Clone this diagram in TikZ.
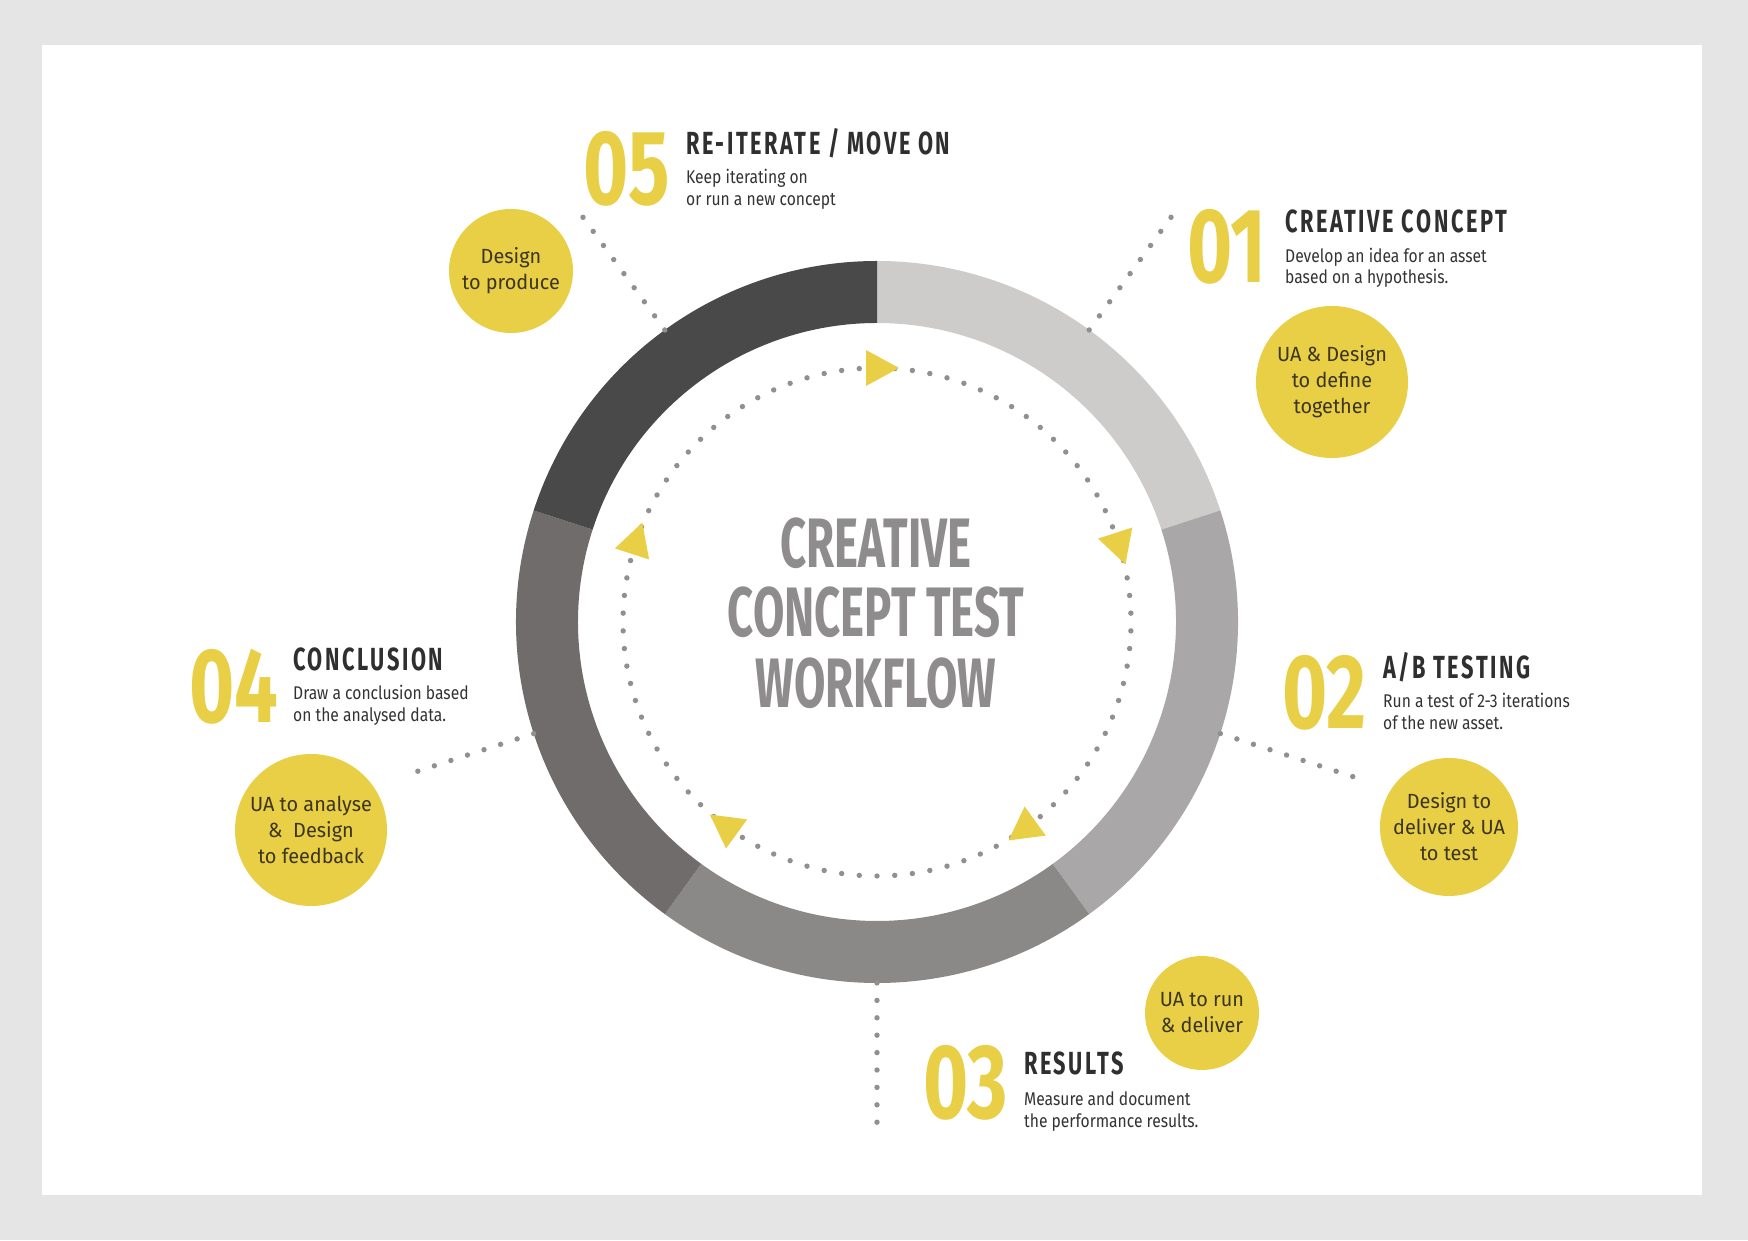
\documentclass[tikz,border=0pt]{standalone}
\usepackage{fontspec}
\setmainfont{Fira Sans}
\newfontfamily\headfont[FakeStretch=0.68,LetterSpace=8]{Fira Sans}
\newfontfamily\numfont[FakeStretch=0.73]{Fira Sans}
\newfontfamily\titlefont[FakeStretch=0.65]{Fira Sans}
\newfontfamily\bodyfont[FakeStretch=0.85]{Fira Sans}
\newfontfamily\bubfont[FakeStretch=0.97]{Fira Sans}
\definecolor{framegray}{HTML}{E5E5E5}
\definecolor{ylw}{HTML}{E8CF45}
\definecolor{segA}{HTML}{CDCCCB}
\definecolor{segB}{HTML}{A9A7A7}
\definecolor{segC}{HTML}{8B8988}
\definecolor{segD}{HTML}{6F6C6B}
\definecolor{segE}{HTML}{4A4949}
\definecolor{dotg}{HTML}{909090}
\definecolor{ink}{HTML}{2F2F2F}
\definecolor{bodyink}{HTML}{333333}
\definecolor{titleg}{HTML}{8E8C8C}
\definecolor{bubink}{HTML}{3B3522}
\begin{document}
\begin{tikzpicture}[x=1pt,y=1pt,
  numtxt/.style={anchor=base west, inner sep=0pt, text=ylw, font=\numfont\bfseries\fontsize{106}{110}\selectfont},
  headtxt/.style={anchor=base west, inner sep=0pt, text=ink, font=\headfont\bfseries\fontsize{32}{34}\selectfont},
  bodytxt/.style={anchor=base west, inner sep=0pt, text=bodyink, font=\bodyfont\fontsize{18.4}{22}\selectfont},
  titletxt/.style={anchor=base, inner sep=0pt, text=titleg, font=\titlefont\bfseries\fontsize{70}{72}\selectfont},
  bubble/.style={circle, fill=ylw, inner sep=0pt, text=bubink, align=center, font=\bubfont\fontsize{20.5}{26}\selectfont}]
\fill[framegray] (0,0) rectangle (1748,1240);
\fill[white] (42,45) rectangle (1702,1195);
\useasboundingbox (0,0) rectangle (1748,1240);
\coordinate (c) at (877,618);
\begin{scope}[shift={(c)}]
  \foreach \a/\b/\col in {18/90/segA, -54/18/segB, -126/-54/segC, 162/234/segD, 90/162/segE}{
    \fill[\col] (\a:361) arc[start angle=\a, end angle=\b, radius=361pt] -- (\b:299) arc[start angle=\b, end angle=\a, radius=299pt] -- cycle;
  }
  \foreach \a in {2,6,...,358}{ \fill[dotg] (\a:254) circle (2.7pt); }
  \foreach \a/\rmax in {126/502, 54/502, -18/502, -90/502, 198/486}{
    \foreach \r in {361,378.4,...,\rmax}{ \fill[dotg] (\a:\r) circle (2.7pt); }
  }
  \foreach \a in {90,18,-54,-126,162}{
    \fill[ylw, shift={(\a:254)}, rotate=\a-90] (22,0) -- (-11,18) -- (-11,-18) -- cycle;
  }
\end{scope}
% centre title
\node[titletxt] (t1) at (876,672) {CREATIVE};
\node[titletxt] (t2) at (876,603) {CONCEPT TEST};
\node[titletxt] (t3) at (876,532) {WORKFLOW};
% 05
\node[numtxt] (n5) at (583,1035) {05};
\node[headtxt] (h5) at (686,1085) {RE-ITERATE / MOVE ON};
\node[bodytxt] (d5a) at (686,1056) {Keep iterating on};
\node[bodytxt] (d5b) at (686,1034) {or run a new concept};
% 01
\node[numtxt] (n1) at (1187,957) {01};
\node[headtxt] (h1) at (1285,1007) {CREATIVE CONCEPT};
\node[bodytxt] (d1a) at (1285,977) {Develop an idea for an asset};
\node[bodytxt] (d1b) at (1285,956) {based on a hypothesis.};
% 02
\node[numtxt] (n2) at (1282,511) {02};
\node[headtxt] (h2) at (1383,561) {A/B TESTING};
\node[bodytxt] (d2a) at (1383,532) {Run a test of 2-3 iterations};
\node[bodytxt] (d2b) at (1383,510) {of the new asset.};
% 03
\node[numtxt] (n3) at (923,122) {03};
\node[headtxt] (h3) at (1024,165) {RESULTS};
\node[bodytxt] (d3a) at (1024,135) {Measure and document};
\node[bodytxt] (d3b) at (1024,113) {the performance results.};
% 04
\node[numtxt] (n4) at (189,517) {04};
\node[headtxt] (h4) at (293,569) {CONCLUSION};
\node[bodytxt] (d4a) at (293,540) {Draw a conclusion based};
\node[bodytxt] (d4b) at (293,518) {on the analysed data.};
% bubbles
\node[bubble, minimum size=124pt] (b5) at (511,969) {Design\\to produce};
\node[bubble, minimum size=152pt] (b1) at (1332,858) {UA \& Design\\to define\\together};
\node[bubble, minimum size=138pt] (b2) at (1449,413) {Design to\\deliver \& UA\\to test};
\node[bubble, minimum size=114pt] (b3) at (1202,227) {UA to run\\\& deliver};
\node[bubble, minimum size=152pt] (b4) at (311,410) {UA to analyse\\\&\ \ Design\\to feedback};
\end{tikzpicture}
\end{document}
